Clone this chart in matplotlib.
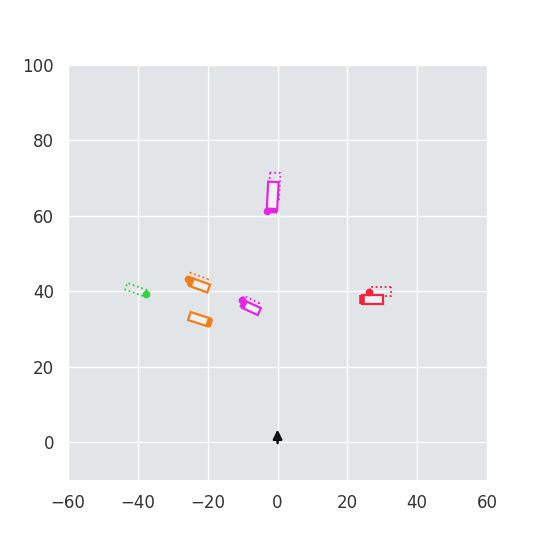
import numpy as np
import matplotlib
matplotlib.use("Agg")
import matplotlib.pyplot as plt
from matplotlib.patches import Polygon

# ---- data ----
x_ticks = [-60, -40, -20, 0, 20, 40, 60]
y_ticks = [0, 20, 40, 60, 80, 100]

agent_colors = ["#e426e4", "#2fd445", "#f57c14", "#f57c14", "#e426e4", "#ee2440"]
# solid (current) boxes: center x, center y, length, width, heading (deg); None = not drawn
solid_cx = [-1.4, None, -22.3, -22.4, -7.5, 27.3]
solid_cy = [65.2, None, 41.6, 32.6, 35.6, 37.9]
solid_len = [8.2, None, 5.5, 6.0, 5.0, 6.0]
solid_wid = [3.0, None, 2.4, 2.4, 2.2, 2.7]
solid_head = [87, None, -20, -18, -25, 0]
thick_edge = ["rear", None, "rear", "front", "rear", "rear"]
# dotted (future) boxes
dot_cx = [-0.9, -40.5, -22.8, None, -7.9, 29.5]
dot_cy = [67.6, 40.4, 43.0, None, 36.9, 39.9]
dot_len = [8.2, 6.0, 5.5, None, 5.0, 6.0]
dot_wid = [3.0, 2.0, 2.4, None, 2.2, 2.4]
dot_head = [87, -20, -20, None, -25, 0]
# marker points
pt_x = [-2.9, -37.7, -25.6, None, -10.2, 26.3]
pt_y = [61.4, 39.3, 43.3, None, 37.8, 39.8]
# ego arrow
ego_x, ego_y0, ego_y1 = 0.0, -0.2, 3.4

# ---- figure ----
fig = plt.figure(figsize=(5.4, 5.4), dpi=100)
ax = fig.add_axes([0.126, 0.111, 0.776, 0.769])
ax.set_facecolor("#e2e5e8")
ax.set_xlim(-60, 60)
ax.set_ylim(-10, 100)
ax.set_xticks(x_ticks)
ax.set_yticks(y_ticks)
ax.set_xticklabels([f"{v}".replace("-", "\u2212") for v in x_ticks])
ax.grid(True, color="white", linewidth=1.0)
ax.set_axisbelow(True)
for s in ax.spines.values():
    s.set_visible(False)
ax.tick_params(length=0, labelsize=12, colors="#333333", pad=10)

# aspect factor: display px per data unit in x / in y
p0 = ax.transData.transform((0, 0))
p1 = ax.transData.transform((1, 1))
k = (p1[0] - p0[0]) / (p1[1] - p0[1])


def box_corners(cx, cy, L, W, h):
    r = np.deg2rad(h)
    u = np.array([np.cos(r), np.sin(r) * k])
    v = np.array([-np.sin(r), np.cos(r) * k])
    c = np.array([cx, cy])
    return np.array([c + L / 2 * u + W / 2 * v, c - L / 2 * u + W / 2 * v,
                     c - L / 2 * u - W / 2 * v, c + L / 2 * u - W / 2 * v])


for i, col in enumerate(agent_colors):
    if dot_cx[i] is not None:
        pts = box_corners(dot_cx[i], dot_cy[i], dot_len[i], dot_wid[i], dot_head[i])
        ax.add_patch(Polygon(pts, closed=True, fill=False, edgecolor=col,
                             linestyle=(0, (1, 1.5)), linewidth=1.3, zorder=3))
    if solid_cx[i] is not None:
        pts = box_corners(solid_cx[i], solid_cy[i], solid_len[i], solid_wid[i], solid_head[i])
        ax.add_patch(Polygon(pts, closed=True, facecolor="#eef0f2", edgecolor=col,
                             linewidth=1.6, zorder=4))
        if thick_edge[i] == "rear":
            seg = pts[[1, 2]]
        else:
            seg = pts[[0, 3]]
        ax.plot(seg[:, 0], seg[:, 1], color=col, linewidth=4, solid_capstyle="butt", zorder=5)
    if pt_x[i] is not None:
        ax.plot(pt_x[i], pt_y[i], "o", color=col, markersize=4.5, zorder=6)

ax.annotate("", xy=(ego_x, ego_y1), xytext=(ego_x, ego_y0),
            arrowprops=dict(arrowstyle="-|>,head_length=0.45,head_width=0.22",
                            color="#111111", lw=1.8, shrinkA=0, shrinkB=0,
                            mutation_scale=12), zorder=7)

fig.savefig("out.png", dpi=100, facecolor="white")
